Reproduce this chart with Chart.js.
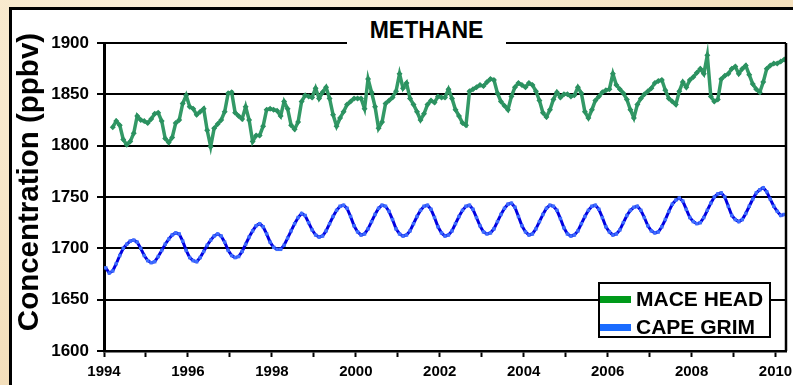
<!DOCTYPE html>
<html>
<head>
<meta charset="utf-8">
<script src="https://cdn.jsdelivr.net/npm/chart.js@4.4.0/dist/chart.umd.min.js"></script>
<style>
html, body { margin: 0; padding: 0; }
body {
    width: 793px; height: 385px; overflow: hidden; position: relative;
    background: radial-gradient(ellipse at 30% 10%, #fcf1dc 0%, #f4e0bd 70%, #f1dbb5 100%);
    font-family: "Liberation Sans", Arial, sans-serif;
}
#frame { position: absolute; left: 9px; top: 7px; width: 800px; height: 400px; border: 3px solid #000; background: #fff; }
#chart { position: absolute; left: 0; top: 0; }
#title {
    position: absolute; left: 347px; top: 16px; width: 159px; height: 29px;
    background: #fff; text-align: center; line-height: 29px;
    font-weight: bold; font-size: 23px; color: #000;
}
#ytitle {
    position: absolute; left: -132px; top: 165px; width: 320px; height: 34px;
    line-height: 34px; text-align: center; transform: rotate(-90deg);
    font-weight: bold; font-size: 29.5px; color: #000; white-space: nowrap;
}
#legend {
    position: absolute; left: 598px; top: 282px; width: 173px; height: 56px;
    box-sizing: border-box; border: 2px solid #000; background: #fff;
}
.row { position: absolute; left: 0; height: 24px; line-height: 24px; font-weight: bold; font-size: 21px; white-space: nowrap; }
.row span.sw { position: absolute; left: 0; top: 9px; width: 31px; height: 7px; }
.row span.tx { position: absolute; left: 36px; top: 0; }
</style>
</head>
<body>
<div id="frame"></div>
<canvas id="chart" width="793" height="385"></canvas>
<div id="ytitle">Concentration (ppbv)</div>
<div id="title">METHANE</div>
<div id="legend">
    <div class="row" style="top:3px"><span class="sw" style="background:#009a1a"></span><span class="tx">MACE HEAD</span></div>
    <div class="row" style="top:31px"><span class="sw" style="background:#1a6cff"></span><span class="tx">CAPE GRIM</span></div>
</div>
<script>
// monthly means, ppbv
const maceStart = [1994, 3];   // year, month of first value
const maceHead = [
    1818, 1824, 1820, 1806, 1801, 1804, 1812, 1829, 1825, 1824,
    1822, 1826, 1831, 1832, 1824, 1807, 1803, 1808, 1822, 1825, 1841, 1849,
    1838, 1836, 1830, 1833, 1836, 1815, 1799, 1817, 1821, 1825, 1833, 1851,
    1852, 1832, 1829, 1826, 1838, 1825, 1804, 1810, 1810, 1819, 1835, 1836,
    1835, 1834, 1829, 1843, 1836, 1820, 1816, 1823, 1843, 1849, 1848, 1847,
    1856, 1846, 1852, 1857, 1846, 1830, 1819, 1827, 1833, 1840, 1843, 1846,
    1846, 1846, 1836, 1865, 1852, 1838, 1817, 1823, 1841, 1844, 1847, 1853,
    1870, 1856, 1861, 1846, 1840, 1833, 1825, 1831, 1840, 1844, 1842, 1848,
    1847, 1847, 1855, 1846, 1835, 1829, 1822, 1820, 1853, 1855, 1857, 1859,
    1858, 1862, 1865, 1864, 1851, 1843, 1839, 1835, 1848, 1857, 1861, 1859,
    1857, 1861, 1859, 1853, 1844, 1832, 1828, 1835, 1845, 1852, 1847, 1850,
    1850, 1848, 1849, 1857, 1851, 1833, 1827, 1835, 1844, 1848, 1852, 1854,
    1855, 1870, 1859, 1855, 1851, 1845, 1835, 1827, 1840, 1846, 1850, 1853,
    1856, 1861, 1863, 1864, 1854, 1846, 1843, 1840, 1853, 1862, 1857, 1864,
    1867, 1871, 1875, 1870, 1888, 1848, 1843, 1845, 1865, 1868, 1870, 1875,
    1877, 1870, 1875, 1878, 1869, 1860, 1855, 1852, 1862, 1875, 1878, 1880,
    1880, 1882, 1884
];

const capeStart = [1994, 1];
const capeGrim = [
    1681, 1676, 1678, 1685, 1693, 1700, 1704, 1707, 1708, 1706, 1700, 1693,
    1688, 1686, 1687, 1692, 1698, 1704, 1709, 1713, 1715, 1714, 1707, 1698,
    1691, 1688, 1687, 1691, 1697, 1703, 1708, 1712, 1714, 1712, 1706, 1698,
    1693, 1691, 1692, 1697, 1704, 1711, 1717, 1722, 1724, 1721, 1714, 1706,
    1701, 1699, 1699, 1703, 1710, 1717, 1724, 1730, 1734, 1732, 1725, 1718,
    1713, 1711, 1712, 1717, 1724, 1731, 1737, 1741, 1742, 1739, 1731, 1722,
    1716, 1713, 1714, 1719, 1726, 1733, 1739, 1742, 1741, 1736, 1728, 1719,
    1714, 1712, 1713, 1717, 1724, 1731, 1737, 1741, 1742, 1738, 1730, 1721,
    1715, 1712, 1713, 1717, 1724, 1731, 1737, 1741, 1742, 1738, 1730, 1722,
    1716, 1714, 1715, 1719, 1726, 1733, 1739, 1743, 1744, 1740, 1731, 1722,
    1716, 1713, 1714, 1719, 1726, 1733, 1739, 1742, 1741, 1737, 1729, 1720,
    1714, 1712, 1713, 1717, 1724, 1731, 1737, 1741, 1742, 1738, 1730, 1721,
    1716, 1713, 1714, 1718, 1725, 1732, 1737, 1740, 1741, 1737, 1730, 1722,
    1717, 1715, 1716, 1721, 1728, 1736, 1743, 1747, 1749, 1746, 1738, 1730,
    1726, 1724, 1725, 1730, 1737, 1744, 1750, 1753, 1754, 1750, 1741, 1732,
    1728, 1726, 1728, 1734, 1741, 1748, 1754, 1757, 1759, 1755, 1748, 1741,
    1736, 1732, 1733
];

const yearMin = 1994, yearMax = 2010.25;
const yMin = 1600, yMax = 1900, yStep = 50;

function monthly(start, values) {
    // put each monthly value in the middle of its month
    return values.map((v, i) => ({ x: start[0] + (start[1] - 1 + i + 0.5) / 12, y: v }));
}

const FONT = '"Liberation Sans", Arial, sans-serif';

const frameLines = {
    id: 'frameLines',
    afterDatasetsDraw(chart) {
        const { ctx, chartArea: a } = chart;
        ctx.save();
        ctx.strokeStyle = '#000';
        ctx.lineWidth = 2.5;
        ctx.beginPath();
        ctx.moveTo(a.right, a.top);
        ctx.lineTo(a.right, a.bottom);
        ctx.stroke();
        ctx.restore();
    }
};

new Chart(document.getElementById('chart'), {
    type: 'line',
    data: {
        datasets: [
            {
                label: 'MACE HEAD',
                data: monthly(maceStart, maceHead),
                borderColor: '#339966',
                backgroundColor: '#2b9160',
                borderWidth: 3.5,
                pointStyle: 'rectRot',
                pointRadius: 3,
                pointBorderWidth: 0,
                tension: 0
            },
            {
                label: 'CAPE GRIM',
                data: monthly(capeStart, capeGrim),
                borderColor: '#0000e0',
                backgroundColor: '#3d6dff',
                borderWidth: 3,
                pointStyle: 'rect',
                pointRadius: 2.4,
                pointBorderWidth: 0,
                tension: 0
            }
        ]
    },
    options: {
        responsive: false,
        animation: false,
        devicePixelRatio: 1,
        layout: { padding: { top: 43, right: 7, left: 0, bottom: 0 } },
        plugins: { legend: { display: false }, title: { display: false }, tooltip: { enabled: false } },
        scales: {
            x: {
                type: 'linear',
                min: yearMin,
                max: yearMax,
                grid: { drawOnChartArea: false, drawTicks: true, tickLength: 6, tickWidth: 2, tickColor: '#000' },
                border: { display: true, color: '#000', width: 2.5 },
                ticks: {
                    stepSize: 1,
                    includeBounds: false,
                    autoSkip: false,
                    maxRotation: 0,
                    padding: 6,
                    color: '#000',
                    font: { family: FONT, size: 15, weight: 'bold' },
                    callback: v => (v % 2 === 0 ? String(v) : '')
                },
                afterFit(scale) { scale.height = 34; scale.paddingLeft = 0; scale.paddingRight = 0; }
            },
            y: {
                min: yMin,
                max: yMax,
                grid: { color: '#000', lineWidth: 2, drawTicks: true, tickLength: 7, tickColor: '#000', tickWidth: 2 },
                border: { display: true, color: '#000', width: 3 },
                ticks: {
                    stepSize: yStep,
                    padding: 8,
                    color: '#000',
                    font: { family: FONT, size: 17, weight: 'bold' },
                    callback: v => String(v)
                },
                afterFit(scale) { scale.width = 104; }
            }
        }
    },
    plugins: [frameLines]
});
</script>
</body>
</html>
